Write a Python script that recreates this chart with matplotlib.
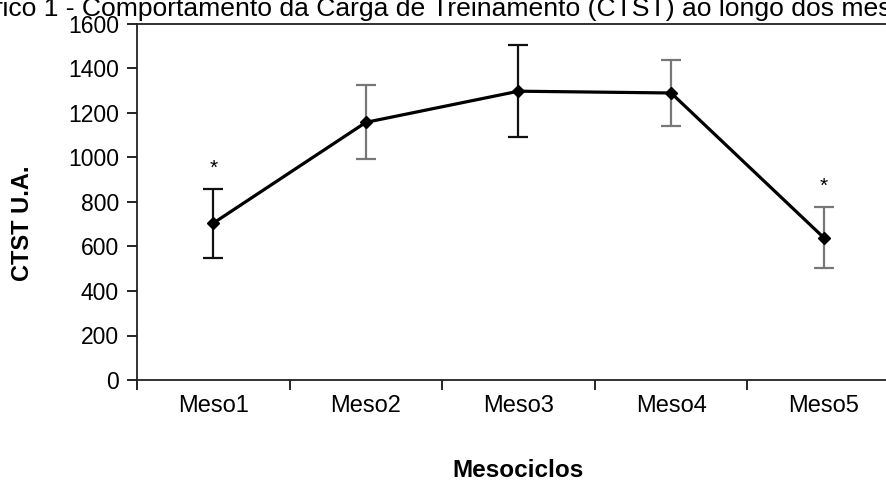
import matplotlib.pyplot as plt
import numpy as np

plt.rcParams['font.family'] = ['Liberation Sans', 'DejaVu Sans']

mesos = ['Meso1', 'Meso2', 'Meso3', 'Meso4', 'Meso5']
ctst = [705, 1158, 1298, 1290, 640]
dp = [155, 166, 207, 150, 138]
signif = [True, False, False, False, True]
bar_colors = ['#111111', '#777777', '#111111', '#777777', '#777777']

titulo = 'Gráfico 1 - Comportamento da Carga de Treinamento (CTST) ao longo dos mesociclos'

fig = plt.figure(figsize=(8.87, 4.82), dpi=100)
ax = fig.add_axes([137/887, 1 - 380/482, 763/887, 356/482])

x = np.arange(1, len(mesos) + 1)
for xi, yi, ei, c in zip(x, ctst, dp, bar_colors):
    ax.errorbar(xi, yi, yerr=ei, fmt='none', ecolor=c, elinewidth=1.6,
                capsize=7, capthick=1.6, zorder=2)
ax.plot(x, ctst, color='black', lw=2.3, marker='D', ms=6, zorder=3)

for xi, yi, ei, s in zip(x, ctst, dp, signif):
    if s:
        ax.text(xi, yi + ei + 92, '*', ha='center', va='center', fontsize=15)

ax.set_xlim(0.5, 5.5)
ax.set_ylim(0, 1600)
ax.set_yticks(range(0, 1601, 200))
ax.set_xticks(np.arange(0.5, 6, 1))
ax.set_xticklabels([])
ax.set_xticks(x, minor=True)
ax.set_xticklabels(mesos, minor=True)
ax.tick_params(axis='x', which='minor', length=0, labelsize=17, pad=11)
ax.tick_params(axis='x', which='major', direction='out', length=7, width=1.2)
ax.tick_params(axis='y', direction='out', length=7, width=1.2, labelsize=16.5, pad=6)
for sp in ax.spines.values():
    sp.set_linewidth(1.3)
    sp.set_color('#222222')

ax.set_ylabel('CTST U.A.', fontsize=17, fontweight='bold')
ax.yaxis.set_label_coords((34 - 137)/763, (380 - 223)/356)
ax.set_xlabel('Mesociclos', fontsize=17.5, fontweight='bold')
ax.xaxis.set_label_coords(0.5, -(459 - 380)/356)

# título cortado nas bordas como na imagem original
r = fig.canvas.get_renderer()
t = fig.text(0, 0, titulo[4:-7], fontsize=18)
w = t.get_window_extent(r).width
fs = 18 * 887 / w
t.remove()
t = fig.text(0, 0, titulo[:4], fontsize=fs)
w0 = t.get_window_extent(r).width
t.remove()
fig.text(-w0/887 + 2/887, 1 - 16/482, titulo, ha='left', va='baseline', fontsize=fs)

fig.savefig('out.png', dpi=100)
